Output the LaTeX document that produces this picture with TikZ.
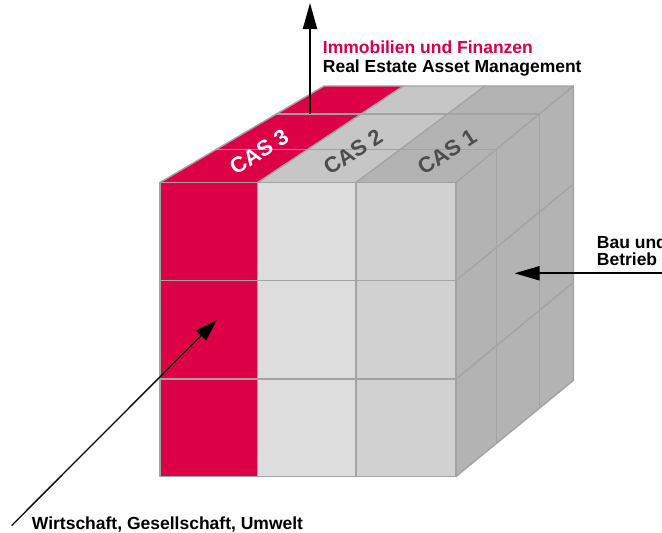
\documentclass[tikz,border=0pt]{standalone}
\usepackage{fontspec}
\setmainfont{Liberation Sans}
\usetikzlibrary{arrows.meta}
\definecolor{cred}{HTML}{DC0046}
\definecolor{cfront2}{HTML}{DCDDDC}
\definecolor{cfront3}{HTML}{D1D1D1}
\definecolor{ctop2}{HTML}{C6C6C6}
\definecolor{ctop3}{HTML}{B3B3B3}
\definecolor{cside}{HTML}{B3B3B3}
\definecolor{cgrid}{HTML}{A3A3A3}
\definecolor{ccas}{HTML}{4D4D4D}
\begin{document}
\begin{tikzpicture}[x=1pt,y=-1pt,
  grid/.style={draw=cgrid, line width=1.4pt, line join=round, line cap=round},
  lbl/.style={font=\bfseries\fontsize{17.5}{20}\selectfont, inner sep=0pt, anchor=base west},
  cas/.style={font=\bfseries\fontsize{22}{24}\selectfont, inner sep=0pt, rotate=33},
  arr/.style={draw=black, -{Triangle[length=#1pt, width=14pt]}}]
\useasboundingbox (0,0) rectangle (662,533);
\fill[white] (0,0) rectangle (662,533);
\clip (0,0) rectangle (662,533);

% front face
\fill[cred] (160,182.5) rectangle (257.7,476.5);
\fill[cfront2] (257.7,182.5) rectangle (356,476.5);
\fill[cfront3] (356,182.5) rectangle (456,476.5);
% top face
\fill[cred] (160,182.5) -- (257.7,182.5) -- (403.3,86) -- (324,86) -- cycle;
\fill[ctop2] (257.7,182.5) -- (356,182.5) -- (485,86) -- (403.3,86) -- cycle;
\fill[ctop3] (356,182.5) -- (456,182.5) -- (573.3,86) -- (485,86) -- cycle;
% right face
\fill[cside] (456,182.5) -- (573.3,86) -- (573.3,380.5) -- (456,476.5) -- cycle;

% front grid
\draw[grid] (160,182.5) rectangle (456,476.5);
\draw[grid] (257.7,182.5) -- (257.7,476.5) (356,182.5) -- (356,476.5);
\draw[grid] (160,280.7) -- (456,280.7) (160,379) -- (456,379);
% top grid
\draw[grid] (160,182.5) -- (324,86) -- (573.3,86) -- (456,182.5);
\draw[grid] (257.7,182.5) -- (403.3,86) (356,182.5) -- (485,86);
\draw[grid] (216.6,149.2) -- (496.5,149.2) (276.4,114) -- (539.3,114);
% right grid
\draw[grid] (573.3,86) -- (573.3,380.5) -- (456,476.5);
\draw[grid] (496.5,149.2) -- (496.5,443.2) (539.3,114) -- (539.3,408);
\draw[grid] (456,280.7) -- (573.3,184.2) (456,379) -- (573.3,282.5);

% CAS labels
\node[cas, text=white] (cas3) at (259,152) {CAS 3};
\node[cas, text=ccas] (cas2) at (353,152) {CAS 2};
\node[cas, text=ccas] (cas1) at (447,152) {CAS 1};

% labels
\node[lbl, text=cred] (l1) at (322.7,53.3) {Immobilien und Finanzen};
\node[lbl] (l2) at (322.7,72.7) {Real Estate Asset Management};
\node[lbl] (l3) at (596.7,248.3) {Bau und};
\node[lbl] (l4) at (596.7,265.5) {Betrieb};
\node[lbl] (l5) at (31.7,529) {Wirtschaft, Gesellschaft, Umwelt};

% arrows
\coordinate (upS) at (310,114);
\coordinate (upE) at (310,3);
\coordinate (rS) at (668,273.3);
\coordinate (rE) at (514.5,273.3);
\coordinate (dS) at (11.7,525.5);
\coordinate (dE) at (216.7,320);
\draw[arr=26, line width=2pt] (upS) -- (upE);
\draw[arr=25, line width=1.8pt] (rS) -- (rE);
\draw[arr=22, line width=1.3pt] (dS) -- (dE);
\end{tikzpicture}
\end{document}
